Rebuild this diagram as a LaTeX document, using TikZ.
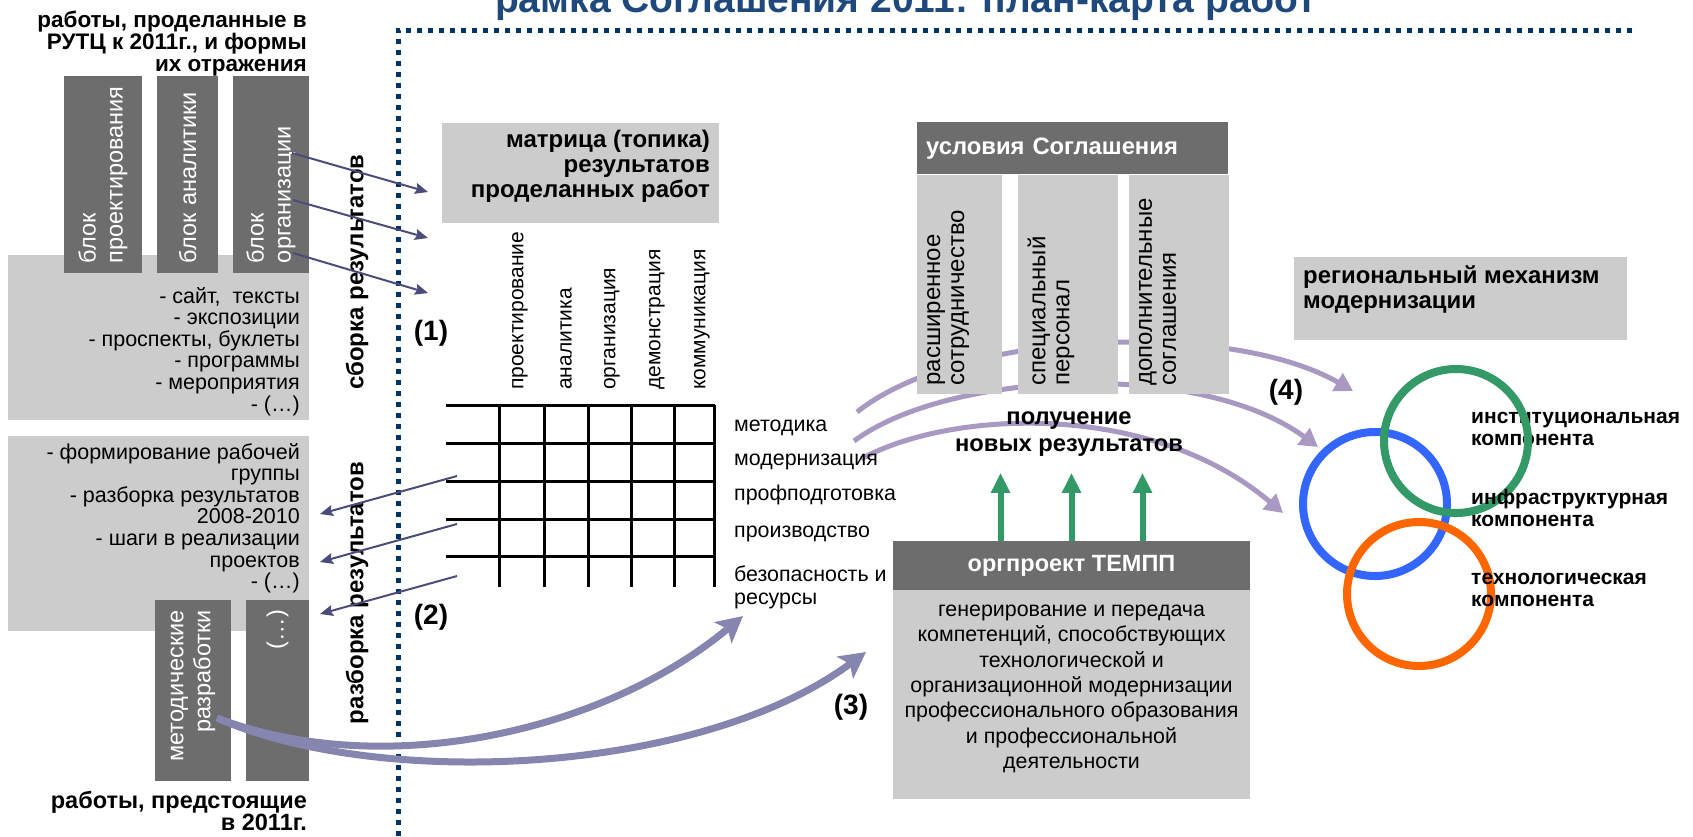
\documentclass[tikz,border=0pt]{standalone}
\usepackage{fontspec}
\setmainfont{Liberation Sans}
\usetikzlibrary{arrows.meta, positioning, calc, backgrounds}

\definecolor{boxdark}{RGB}{109,109,109}
\definecolor{boxlight}{RGB}{204,204,204}
\definecolor{framenavy}{RGB}{0,51,102}
\definecolor{titleblue}{RGB}{31,73,125}
\definecolor{linkblue}{RGB}{76,76,122}
\definecolor{flowviolet}{RGB}{133,133,176}
\definecolor{arcviolet}{RGB}{168,152,194}
\definecolor{ringgreen}{RGB}{51,153,102}
\definecolor{ringblue}{RGB}{51,102,255}
\definecolor{ringorange}{RGB}{255,102,0}

\begin{document}
\begin{tikzpicture}[x=1pt, y=-1pt]
    \tikzset{
        dark/.style = {rectangle, fill=boxdark, text=white, inner sep=0pt},
        light/.style = {rectangle, fill=boxlight, inner sep=0pt},
        vdark/.style = {dark, rotate=90, inner xsep=10pt, font=\fontsize{23.5}{27}\selectfont},
        vtext/.style = {rotate=90, inner sep=0pt, align=left, font=\fontsize{24}{24}\selectfont},
        list/.style = {inner sep=0pt, align=right, font=\fontsize{21.5}{21.6}\selectfont},
        heading/.style = {inner sep=0pt, font=\bfseries\fontsize{22.5}{22}\selectfont},
        side/.style = {rotate=90, inner sep=0pt, font=\bfseries\fontsize{24}{24}\selectfont},
        tag/.style = {inner sep=0pt, font=\bfseries\fontsize{28}{28}\selectfont},
        colhead/.style = {rotate=90, anchor=west, inner sep=0pt, font=\fontsize{21}{21}\selectfont},
        rowhead/.style = {anchor=west, inner sep=0pt, align=left, font=\fontsize{21.4}{23}\selectfont},
        ring/.style = {circle, draw=#1, line width=8pt, minimum size=144pt, inner sep=0pt},
        complab/.style = {anchor=west, inner sep=0pt, align=left, font=\bfseries\fontsize{21}{21.5}\selectfont},
        cell/.style = {line width=3pt},
        link/.style = {draw=linkblue, line width=2pt, -{Stealth[length=13pt, width=11pt, inset=2pt]}},
        flow/.style = {draw=flowviolet, line width=7pt, -{Stealth[length=26pt, width=27pt, inset=6pt]}},
        arcline/.style = {draw=arcviolet, line width=5pt, -{Triangle[length=18pt, width=20pt]}},
        rise/.style = {draw=ringgreen, line width=6pt, -{Triangle[length=20pt, width=18pt]}}
    }
    \useasboundingbox (0,0) rectangle (1693,836);

    \node[anchor=base, inner sep=0pt, text=titleblue, font=\bfseries\fontsize{39}{44}\selectfont] (title) at (906,12) {рамка Соглашения 2011: план-карта работ};

    \draw[framenavy, line width=5pt, dash pattern=on 5pt off 6pt] (398,836) -- (398,30) -- (1637,30);

    \node[light, minimum width=301pt, minimum height=165pt, anchor=north west] (donebox) at (8,255) {};
    \node[light, minimum width=301pt, minimum height=195pt, anchor=north west] (planbox) at (8,436) {};

    \node[vdark, text width=177pt, minimum height=78pt, align=left] (proj) at (103,174.5) {блок\\проектирования};
    \node[vdark, text width=177pt, minimum height=61pt, align=left] (anal) at (187.5,174.5) {блок аналитики};
    \node[vdark, text width=177pt, minimum height=76pt, align=left] (org) at (271,174.5) {блок\\организации};
    \node[vdark, text width=161pt, minimum height=76pt, align=right] (method) at (193,690.5) {методические\\разработки};
    \node[vdark, text width=161pt, minimum height=63pt, align=right] (more) at (277.5,690.5) {(…)};

    \node[heading, anchor=north east, align=right] (donehead) at (307,11) {работы, проделанные в\\РУТЦ к 2011г., и формы\\их отражения};
    \node[heading, anchor=north east, align=right, font=\bfseries\fontsize{23.5}{21}\selectfont] (planhead) at (307,791) {работы, предстоящие\\в 2011г.};

    \node[list, anchor=north east] (donelist) at (300,287) {- сайт,\ \ тексты\\- экспозиции\\- проспекты, буклеты\\- программы\\- мероприятия\\- (…)};
    \node[list, anchor=north east] (planlist) at (300,443) {- формирование рабочей\\группы\\- разборка результатов\\2008-2010\\- шаги в реализации\\проектов\\- (…)};

    \node[side] (gather) at (357,272) {сборка результатов};
    \node[side] (sort) at (357,593) {разборка результатов};

    \node[tag] (step1) at (431,333) {(1)};
    \node[tag] (step2) at (431,617) {(2)};
    \node[tag] (step3) at (851,707) {(3)};
    \node[tag] (step4) at (1286,392) {(4)};

    \node[light, minimum width=277pt, minimum height=100pt, anchor=north west] (topics) at (442,123) {};
    \node[heading, anchor=north east, align=right, font=\bfseries\fontsize{24}{25}\selectfont] (topicstitle) at (710,130) {матрица (топика)\\результатов\\проделанных работ};

    \foreach \y in {405,443,481,519,556}
        \draw[cell] (446,\y) -- (715,\y);
    \foreach \x in {499,544,588,631,674,714}
        \draw[cell] (\x,405) -- (\x,587);

    \foreach \x/\name/\txt in {520/design/проектирование, 566/analysis/аналитика, 612/organizing/организация, 657/demo/демонстрация, 702/comm/коммуникация}
        \node[colhead] (\name) at (\x,390) {\txt};

    \node[rowhead] (methodology) at (734,428) {методика};
    \node[rowhead] (modern) at (734,462) {модернизация};
    \node[rowhead] (training) at (734,495) {профподготовка};
    \node[rowhead] (production) at (734,534) {производство};
    \node[rowhead] (safety) at (734,587) {безопасность и\\ресурсы};

    \node[dark, anchor=north west, minimum width=311pt, minimum height=52pt, text width=293pt, inner xsep=9pt, align=left, font=\bfseries\fontsize{23.8}{24}\selectfont] (terms) at (917,122) {условия Соглашения};
    \node[light, minimum width=85pt, minimum height=219pt, below right=0pt and 0pt of terms.south west] (coop) {};
    \node[light, minimum width=100pt, minimum height=219pt, right=15pt of coop] (staff) {};
    \node[light, minimum width=100pt, minimum height=219pt, right=11pt of staff] (extra) {};
    \node[vtext, anchor=north west] (cooptext) at ($(coop.south west)+(10,-8)$) {расширенное\\сотрудничество};
    \node[vtext, anchor=north west] (stafftext) at ($(staff.south west)+(10,-8)$) {специальный\\персонал};
    \node[vtext, anchor=north west] (extratext) at ($(extra.south west)+(10,-8)$) {дополнительные\\соглашения};

    \node[align=center, inner sep=0pt, font=\bfseries\fontsize{23.7}{27}\selectfont] (newres) at (1069,434) {получение\\новых результатов};

    \node[dark, minimum width=357pt, minimum height=49pt, font=\bfseries\fontsize{23.5}{24}\selectfont] (tempp) at (1071.5,565.5) {оргпроект ТЕМПП};
    \node[light, minimum width=357pt, minimum height=209pt, below=0pt of tempp] (temppbody) {};
    \node[align=center, inner sep=0pt, font=\fontsize{21.4}{25.4}\selectfont] (tempptext) at ([yshift=6pt]temppbody.center) {генерирование и передача\\компетенций, способствующих\\технологической и\\организационной модернизации\\профессионального образования\\и профессиональной\\деятельности};

    \node[light, minimum width=333pt, minimum height=83pt, anchor=north west] (region) at (1294,257) {};
    \node[heading, anchor=north west, align=left, font=\bfseries\fontsize{23.9}{25}\selectfont] (regiontitle) at (1303,266) {региональный механизм\\модернизации};

    \node[ring=ringblue] (infra) at (1375,504) {};
    \node[complab] (instlab) at (1471,429) {институциональная\\компонента};
    \node[ring=ringgreen] (inst) at (1456,441) {};
    \node[ring=ringorange] (tech) at (1419,594) {};
    \node[complab] (infralab) at (1471,508) {инфраструктурная\\компонента};
    \node[complab] (techlab) at (1471,590) {технологическая\\компонента};

    \coordinate (org1) at (292,153);
    \coordinate (org2) at (293,200);
    \coordinate (org3) at (293,253);
    \coordinate (in1) at (428,192);
    \coordinate (in2) at (428,238);
    \coordinate (in3) at (428,293);
    \path[link] (org1) -- (in1);
    \path[link] (org2) -- (in2);
    \path[link] (org3) -- (in3);

    \coordinate (out1) at (457,476);
    \coordinate (out2) at (457,524);
    \coordinate (out3) at (457,576);
    \coordinate (back1) at (320,514);
    \coordinate (back2) at (320,562);
    \coordinate (back3) at (320,614);
    \path[link] (out1) -- (back1);
    \path[link] (out2) -- (back2);
    \path[link] (out3) -- (back3);

    \path[rise] ([xshift=-71pt]tempp.north) -- ++(0,-68);
    \path[rise] (tempp.north) -- ++(0,-68);
    \path[rise] ([xshift=71pt]tempp.north) -- ++(0,-68);

    \coordinate (arcA) at (857,412);
    \coordinate (arcB) at (854,441);
    \coordinate (arcC) at (861,459);
    \coordinate (toInst) at (1353,391);
    \coordinate (toInfraTop) at (1318,447);
    \coordinate (toInfraLeft) at (1283,513);
    \begin{scope}[on background layer]
        \path[arcline] (arcA) .. controls (960,330) and (1230,320) .. (toInst);
        \path[arcline] (arcB) .. controls (950,370) and (1200,360) .. (toInfraTop);
        \path[arcline] (arcC) .. controls (950,410) and (1150,400) .. (toInfraLeft);
    \end{scope}

    \coordinate (methsrc) at (217,718);
    \coordinate (toRows) at (743,616);
    \coordinate (toTempp) at (866,652);
    \path[flow] (methsrc) .. controls (380,780) and (600,735) .. (toRows);
    \path[flow] (methsrc) .. controls (380,790) and (700,775) .. (toTempp);
\end{tikzpicture}
\end{document}
